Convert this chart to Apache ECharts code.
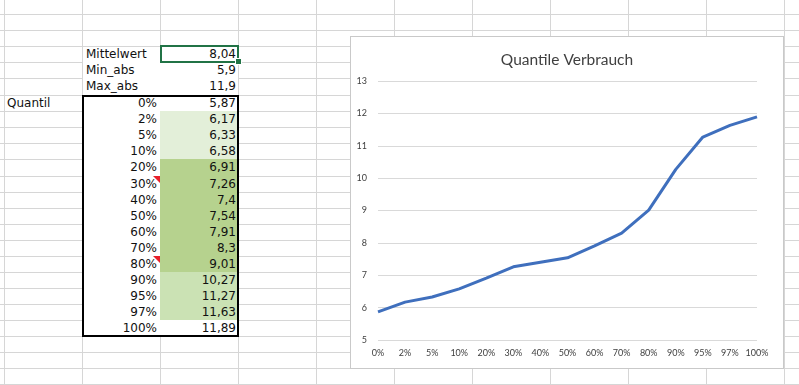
<!DOCTYPE html>
<html>
<head>
<meta charset="utf-8">
<script src="https://cdn.jsdelivr.net/npm/echarts@6/dist/echarts.min.js"></script>
<style>
html,body{margin:0;padding:0;}
body{width:799px;height:385px;position:relative;overflow:hidden;background:#fff;font-family:"DejaVu Sans",Verdana,sans-serif;}
.abs{position:absolute;}
.vl{position:absolute;top:0;width:1px;height:385px;background:#d6d6d6;}
.hl{position:absolute;left:0;width:799px;height:1px;background:#d6d6d6;}
.t{position:absolute;height:16px;line-height:16px;font-size:12px;color:#111;white-space:nowrap;}
</style>
</head>
<body>
<div id="sheet"></div>
<div class="abs" style="left:350px;top:36px;width:434px;height:333px;box-sizing:border-box;border:1px solid #c9c9c9;background:#fff;">
  <div id="chart" style="position:absolute;left:0;top:0;width:432px;height:331px;"></div>
</div>
<script>
// ---- data ----
const categories = ['0%','2%','5%','10%','20%','30%','40%','50%','60%','70%','80%','90%','95%','97%','100%'];
const values = [5.87, 6.17, 6.33, 6.58, 6.91, 7.26, 7.4, 7.54, 7.91, 8.3, 9.01, 10.27, 11.27, 11.63, 11.89];
const statLabels = ['Mittelwert', 'Min_abs', 'Max_abs'];
const statValues = [8.04, 5.9, 11.9];
const headerLabel = 'Quantil';
const chartTitle = 'Quantile Verbrauch';
const yTicks = [5, 6, 7, 8, 9, 10, 11, 12, 13];
const commentRows = ['30%', '80%'];

// ---- spreadsheet background ----
const sheet = document.getElementById('sheet');
const colX = [4, 82, 160, 238, 316, 394, 472, 550, 628, 706, 784];
const rowY = [14, 30, 46, 62, 78, 95, 111, 127, 143, 159, 176, 192, 208, 224, 240, 256, 272, 288, 304, 320, 336, 352, 368, 384];
function add(html){ sheet.insertAdjacentHTML('beforeend', html); }
colX.forEach(x => add(`<div class="vl" style="left:${x}px"></div>`));
rowY.forEach(y => add(`<div class="hl" style="top:${y}px"></div>`));
// white cells in columns B-C
add(`<div class="abs" style="left:83px;top:47px;width:155px;height:289px;background:#fff"></div>`);
const fmt = v => String(v).replace('.', ',');
// stats rows (rows start at rowY[2])
statLabels.forEach((lab, i) => {
  const top = rowY[2 + i];
  add(`<div class="t" style="left:86px;top:${top}px">${lab}</div>`);
  add(`<div class="t" style="left:160px;width:76px;text-align:right;top:${top}px">${fmt(statValues[i])}</div>`);
});
// quantile rows
add(`<div class="t" style="left:7px;top:${rowY[5]}px">${headerLabel}</div>`);
categories.forEach((c, i) => {
  const top = rowY[5 + i], h = rowY[6 + i] - top;
  let bg = null;
  if (i >= 1 && i <= 3) bg = '#e3efd9';
  else if (i >= 4 && i <= 10) bg = '#b6d28e';
  else if (i >= 11 && i <= 13) bg = '#cbe2b4';
  if (bg) add(`<div class="abs" style="left:160px;top:${top}px;width:78px;height:${h}px;background:${bg}"></div>`);
  add(`<div class="t" style="left:84px;width:73px;text-align:right;top:${top}px">${c}</div>`);
  add(`<div class="t" style="left:160px;width:76px;text-align:right;top:${top}px">${fmt(values[i])}</div>`);
  if (commentRows.includes(c)) {
    add(`<div class="abs" style="left:153px;top:${top}px;width:0;height:0;border-top:7px solid #e8202a;border-left:7px solid transparent"></div>`);
  }
});
// thick table border
add(`<div class="abs" style="left:82px;top:95px;width:157px;height:242px;box-sizing:border-box;border:2px solid #000"></div>`);
// selection box on Mittelwert value
add(`<div class="abs" style="left:160px;top:45px;width:79px;height:18px;box-sizing:border-box;border:2px solid #217346"></div>`);
add(`<div class="abs" style="left:236px;top:59px;width:5px;height:5px;background:#217346;box-shadow:0 0 0 1px #fff"></div>`);

// ---- chart ----
const chart = echarts.init(document.getElementById('chart'), null, {renderer: 'canvas'});
chart.setOption({
  backgroundColor: '#fff',
  animation: false,
  title: {
    text: chartTitle,
    left: 'center',
    top: 10,
    textStyle: {fontFamily: 'Lato', fontSize: 15.5, fontWeight: 'normal', color: '#404040'}
  },
  grid: {left: 27, right: 26, top: 44, bottom: 28, containLabel: false},
  xAxis: {
    type: 'category',
    data: categories,
    boundaryGap: false,
    axisLine: {show: false},
    axisTick: {show: false},
    axisLabel: {margin: 9, fontFamily: 'Lato', fontSize: 9, color: '#404040', interval: 0}
  },
  yAxis: {
    type: 'value',
    min: yTicks[0],
    max: yTicks[yTicks.length - 1],
    interval: 1,
    axisLine: {show: false},
    axisTick: {show: false},
    splitLine: {lineStyle: {color: '#d9d9d9', width: 1}},
    axisLabel: {margin: 11, fontFamily: 'Lato', fontSize: 9, color: '#404040'}
  },
  series: [{
    type: 'line',
    data: values,
    symbol: 'none',
    smooth: false,
    lineStyle: {color: '#3f6fbd', width: 3},
    itemStyle: {color: '#3f6fbd'}
  }]
});
</script>
</body>
</html>
